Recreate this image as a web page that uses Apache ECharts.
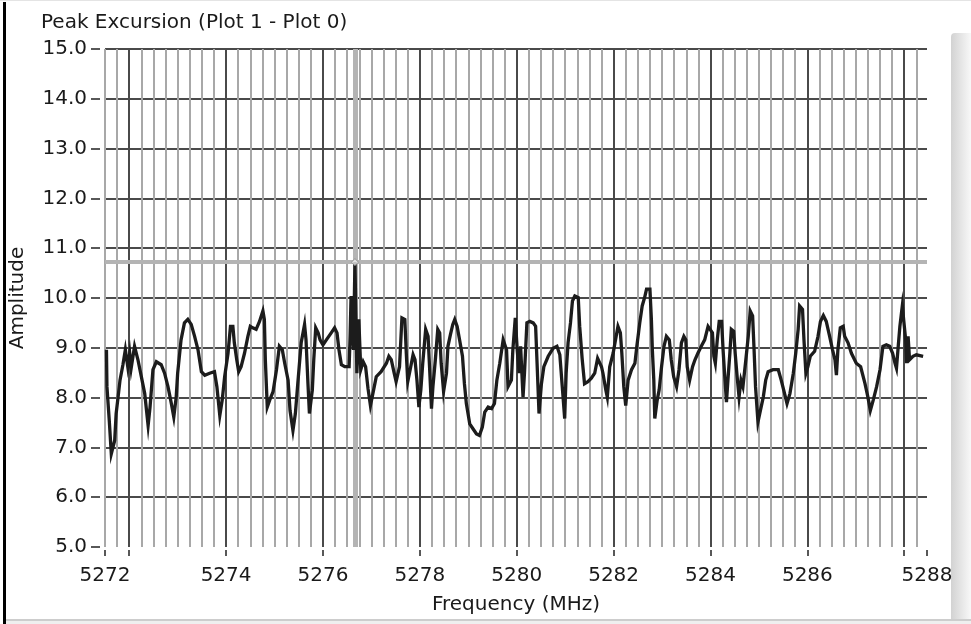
<!DOCTYPE html>
<html>
<head>
<meta charset="utf-8">
<script src="https://cdn.jsdelivr.net/npm/echarts@6/dist/echarts.min.js"></script>
<style>
html,body{margin:0;padding:0;background:#ffffff;}
#c{width:971px;height:624px;}
</style>
</head>
<body>
<div id="c"></div>
<script>
// ---- data ----
const freq = [
5271.53,5271.54,5271.59,5271.63,5271.70,5271.73,5271.77,5271.81,5271.87,5271.92,
5271.97,5272.01,5272.04,5272.11,5272.18,5272.25,5272.32,5272.39,5272.43,5272.49,
5272.56,5272.66,5272.73,5272.80,5272.87,5272.92,5272.97,5273.00,5273.07,5273.14,
5273.21,5273.28,5273.35,5273.42,5273.49,5273.56,5273.66,5273.76,5273.81,5273.87,
5273.92,5273.97,5274.04,5274.09,5274.14,5274.17,5274.22,5274.26,5274.31,5274.38,
5274.45,5274.50,5274.55,5274.62,5274.69,5274.76,5274.79,5274.81,5274.85,5274.90,
5274.97,5275.04,5275.10,5275.16,5275.21,5275.28,5275.32,5275.38,5275.43,5275.48,
5275.55,5275.62,
5275.65,5275.69,5275.72,5275.78,5275.81,5275.85,5275.90,5275.94,5276.00,5276.07,
5276.17,5276.24,5276.29,5276.33,5276.38,5276.45,5276.54,5276.56,5276.58,5276.61,
5276.63,5276.66,5276.70,5276.74,5276.78,5276.83,5276.88,5276.93,5276.98,5277.03,
5277.10,5277.20,5277.31,5277.36,5277.41,5277.47,5277.51,5277.58,5277.63,5277.69,
5277.72,5277.75,5277.80,5277.86,5277.90,5277.94,5277.98,5278.02,5278.06,5278.12,
5278.17,5278.20,5278.24,5278.27,5278.32,5278.37,5278.41,5278.44,5278.49,5278.55,
5278.58,5278.63,5278.68,5278.72,5278.77,5278.82,5278.88,5278.92,5278.96,5279.03,
5279.10,5279.17,5279.23,5279.29,5279.34,5279.41,5279.48,5279.54,5279.59,5279.65,
5279.72,5279.79,
5279.82,5279.89,5279.92,5279.97,5280.01,5280.05,5280.08,5280.13,5280.16,5280.21,
5280.27,5280.34,5280.39,5280.42,5280.46,5280.51,5280.56,5280.65,5280.75,5280.83,
5280.89,5280.94,5280.99,5281.02,5281.06,5281.11,5281.15,5281.20,5281.27,5281.30,
5281.35,5281.40,5281.47,5281.54,5281.61,5281.67,5281.71,5281.75,5281.78,5281.84,
5281.87,5281.92,5281.99,5282.04,5282.09,5282.14,5282.17,5282.21,5282.25,5282.30,
5282.37,5282.44,5282.48,5282.54,5282.59,5282.64,5282.68,5282.75,5282.78,5282.80,
5282.83,5282.85,5282.90,5282.94,5282.99,5283.04,5283.09,5283.15,5283.19,5283.24,
5283.30,5283.35,5283.40,5283.45,5283.49,5283.52,5283.57,5283.63,5283.68,5283.74,
5283.81,5283.88,5283.95,
5283.98,5284.04,5284.07,5284.10,5284.14,5284.18,5284.23,5284.26,5284.29,5284.33,
5284.36,5284.40,5284.43,5284.48,5284.51,5284.55,5284.59,5284.63,5284.67,5284.73,
5284.78,5284.82,5284.87,5284.90,5284.93,5284.98,5285.03,5285.09,5285.14,5285.19,
5285.29,5285.40,5285.46,5285.53,5285.58,5285.64,5285.71,5285.76,5285.81,5285.84,
5285.90,5285.93,5285.97,5286.01,5286.06,5286.15,5286.22,5286.27,5286.33,5286.39,
5286.46,5286.52,5286.57,5286.60,5286.63,5286.68,5286.74,5286.77,5286.84,5286.91,
5287.01,5287.10,5287.19,5287.25,5287.30,5287.36,5287.43,5287.50,5287.56,5287.63,
5287.70,5287.76,5287.81,5287.84,5287.87,5287.91,5287.96,5287.99,5288.03,5288.05,
5288.08,5288.11,5288.18,5288.25,5288.39
];
const amp = [
8.96,8.22,7.51,6.87,7.14,7.68,8.01,8.35,8.66,8.96,
8.62,8.89,8.59,9.03,8.76,8.42,8.08,7.44,7.81,8.56,
8.72,8.66,8.49,8.22,7.88,7.61,8.01,8.49,9.16,9.50,
9.57,9.47,9.23,8.96,8.52,8.45,8.49,8.52,8.22,7.64,
7.95,8.42,8.89,9.43,9.43,9.10,8.76,8.52,8.62,8.89,
9.23,9.43,9.40,9.37,9.53,9.74,9.57,8.76,7.81,7.95,
8.12,8.56,9.03,8.96,8.69,8.35,7.74,7.34,7.68,8.28,
9.10,9.47,
9.16,8.28,7.68,8.15,8.76,9.40,9.30,9.16,9.06,9.16,
9.30,9.40,9.30,8.96,8.66,8.62,8.62,9.23,10.04,9.23,
8.96,10.72,8.49,9.57,8.56,8.72,8.62,8.18,7.84,8.08,
8.42,8.52,8.69,8.83,8.76,8.49,8.32,8.62,9.60,9.57,
8.89,8.32,8.56,8.86,8.76,8.35,7.81,8.15,8.69,9.37,
9.23,8.62,7.78,8.22,8.76,9.37,9.30,8.69,8.12,8.49,
9.03,9.26,9.47,9.57,9.43,9.16,8.83,8.28,7.88,7.47,
7.37,7.27,7.24,7.41,7.71,7.81,7.78,7.88,8.35,8.69,
9.16,8.96,
8.22,8.35,8.96,9.60,8.96,8.49,9.03,8.01,8.49,9.50,
9.53,9.50,9.43,8.69,7.68,8.28,8.62,8.83,8.99,9.03,
8.86,8.22,7.58,8.49,9.10,9.50,9.94,10.04,10.01,9.43,
8.79,8.28,8.32,8.39,8.49,8.79,8.83,8.62,8.49,8.15,
8.01,8.62,8.89,9.16,9.43,9.30,8.89,8.22,7.84,8.35,
8.56,8.69,9.03,9.50,9.84,10.01,10.18,10.18,9.57,8.96,
8.35,7.58,7.95,8.15,8.62,9.03,9.23,9.16,8.76,8.42,
8.22,8.56,9.10,9.23,9.16,8.62,8.35,8.62,8.76,8.89,
9.03,9.16,9.43,
9.47,9.30,8.83,8.69,9.16,9.53,9.53,8.96,8.49,7.91,
8.35,8.89,9.37,9.33,8.89,8.42,8.01,8.35,8.22,8.76,
9.23,9.74,9.64,8.96,8.22,7.51,7.74,8.01,8.35,8.52,
8.56,8.56,8.35,8.08,7.88,8.08,8.49,8.89,9.37,9.84,
9.77,9.16,8.49,8.62,8.83,8.93,9.23,9.53,9.65,9.53,
9.23,8.96,8.76,8.45,8.96,9.40,9.43,9.23,9.10,8.89,
8.69,8.62,8.28,8.01,7.74,7.95,8.22,8.56,9.03,9.06,
9.03,8.89,8.69,8.59,8.96,9.43,9.84,9.84,9.16,8.69,
9.23,8.76,8.83,8.86,8.83
];
const cursorFreq = 5276.66;
const cursorAmp = 10.72;

const xMin = 5271.5;
const xMax = 5288.47;
const xMinorStep = 0.25;
const majorFreqs = [5272, 5274, 5276, 5278, 5280, 5282, 5284, 5286, 5288];
const xTickValues = [5271.5, 5272, 5274, 5276, 5278, 5280, 5282, 5284, 5286, 5288, 5288.47];
const xLabelValues = [5271.5, 5274, 5276, 5278, 5280, 5282, 5284, 5286, 5288.47];
const xLabelText = ['5272', '5274', '5276', '5278', '5280', '5282', '5284', '5286', '5288'];
const yMin = 5, yMax = 15, yStep = 1;

const titleText = 'Peak Excursion (Plot 1 - Plot 0)';
const xName = 'Frequency (MHz)';
const yName = 'Amplitude';

// ---- chart ----
const F = 'DejaVu Sans';
const lineData = freq.map((f, i) => [f, amp[i]]);
const chart = echarts.init(document.getElementById('c'), null, {renderer: 'canvas'});

const hiddenX = {
  type: 'value', gridIndex: 0, min: xMin, max: xMax,
  axisLine: {show: false}, axisLabel: {show: false}
};

chart.setOption({
  animation: false,
  backgroundColor: '#ffffff',
  title: {
    text: titleText, left: 41, top: 13, padding: 0,
    textStyle: {fontFamily: F, fontSize: 20, fontWeight: 'normal', color: '#1a1a1a'}
  },
  grid: [{left: 105, top: 49, width: 822, height: 498, containLabel: false}],
  xAxis: [
    {
      type: 'value', gridIndex: 0, min: xMin, max: xMax, position: 'bottom', offset: 3,
      axisLine: {show: false},
      axisTick: {show: true, customValues: xTickValues, length: 6, lineStyle: {color: '#222', width: 1.5}},
      axisLabel: {
        customValues: xLabelValues,
        formatter: v => xLabelText[xLabelValues.indexOf(v)] || String(Math.round(v)),
        margin: 16, fontFamily: F, fontSize: 20, color: '#1a1a1a'
      },
      splitLine: {show: false},
      name: xName, nameLocation: 'middle', nameGap: 45,
      nameTextStyle: {fontFamily: F, fontSize: 20, color: '#1a1a1a'}
    },
    Object.assign({}, hiddenX, {
      interval: xMinorStep,
      axisTick: {show: false},
      splitLine: {show: true, showMaxLine: false, lineStyle: {color: '#a8a8a8', width: 2}}
    }),
    Object.assign({}, hiddenX, {
      axisTick: {show: false, customValues: majorFreqs},
      axisLabel: {show: false, customValues: majorFreqs},
      splitLine: {show: true, lineStyle: {color: '#4a4a4a', width: 2}}
    })
  ],
  yAxis: [{
    type: 'value', gridIndex: 0, min: yMin, max: yMax, interval: yStep, offset: 5,
    axisLine: {show: false},
    axisTick: {show: true, length: 9, lineStyle: {color: '#222', width: 1.5}},
    axisLabel: {formatter: v => v.toFixed(1), margin: 13, fontFamily: F, fontSize: 20, color: '#1a1a1a', padding: [4, 0, 0, 0]},
    splitLine: {show: true, showMinLine: false, lineStyle: {color: '#4a4a4a', width: 2}},
    name: yName, nameLocation: 'middle', nameGap: 72, nameRotate: 90,
    nameTextStyle: {fontFamily: F, fontSize: 20, color: '#1a1a1a'}
  }],
  series: [
    {
      type: 'line', xAxisIndex: 0, yAxisIndex: 0, z: 1,
      data: [[cursorFreq, cursorAmp]], showSymbol: false, lineStyle: {width: 0},
      markLine: {
        silent: true, symbol: 'none', label: {show: false}, animation: false, z: 1,
        data: [
          {xAxis: cursorFreq, lineStyle: {color: '#b4b4b4', width: 5, type: 'solid'}},
          {yAxis: cursorAmp, lineStyle: {color: '#b4b4b4', width: 4, type: 'solid'}}
        ]
      }
    },
    {
      type: 'line', xAxisIndex: 0, yAxisIndex: 0, z: 3,
      data: lineData, showSymbol: false, symbol: 'none',
      lineStyle: {color: '#1c1c1c', width: 3.3, join: 'miter'}
    },
    {
      type: 'scatter', xAxisIndex: 0, yAxisIndex: 0, z: 4,
      data: [[cursorFreq, cursorAmp]], symbol: 'diamond', symbolSize: 7,
      itemStyle: {color: '#eeeeee', borderColor: '#8a8a8a', borderWidth: 1}
    }
  ],
  graphic: [
    {type: 'rect', shape: {x: 0, y: 0, width: 971, height: 1}, style: {fill: '#e4e4e4'}, silent: true},
    {type: 'rect', shape: {x: 3, y: 2, width: 3, height: 622}, style: {fill: '#000000'}, silent: true},
    {type: 'rect', shape: {x: 951, y: 33, width: 20, height: 586, r: [4, 0, 0, 0]},
     style: {fill: new echarts.graphic.LinearGradient(0, 0, 1, 0, [{offset: 0, color: '#d2d2d2'}, {offset: 1, color: '#f8f8f8'}])}, silent: true},
    {type: 'rect', shape: {x: 6, y: 619, width: 965, height: 2}, style: {fill: '#cdcdcd'}, silent: true},
    {type: 'rect', shape: {x: 6, y: 621, width: 965, height: 3}, style: {fill: '#efefef'}, silent: true}
  ]
});
</script>
</body>
</html>
